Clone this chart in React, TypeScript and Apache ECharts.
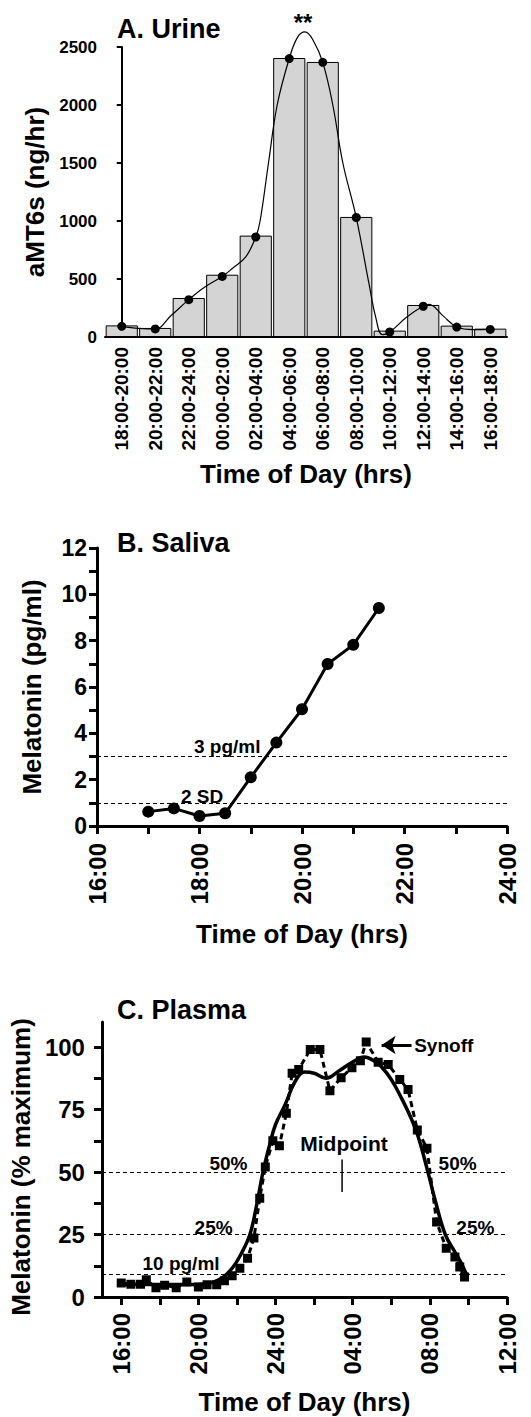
import React, { useEffect, useRef } from 'react';
import * as echarts from 'echarts';

// ---------- Panel A: Urine ----------
const urineCategories = [
  '18:00-20:00', '20:00-22:00', '22:00-24:00', '00:00-02:00', '02:00-04:00', '04:00-06:00',
  '06:00-08:00', '08:00-10:00', '10:00-12:00', '12:00-14:00', '14:00-16:00', '16:00-18:00',
];
const urineBars = [100, 78, 336, 537, 874, 2405, 2371, 1035, 55, 276, 98, 72];
const urineDots = [92, 70, 322, 522, 862, 2400, 2368, 1030, 43, 265, 86, 65];
// smooth curve read along the drawn spline (x in category index units)
const urineCurve: [number, number][] = [
  [0, 92], [0.5, 75], [1, 70], [1.48, 187], [2, 322], [2.48, 431], [3, 522], [3.3, 590],
  [3.7, 690], [4, 862], [4.13, 1000], [4.38, 1500], [4.64, 2000], [5, 2400], [5.25, 2585],
  [5.47, 2630], [5.7, 2565], [6, 2368], [6.3, 2000], [6.6, 1500], [7, 1030], [7.38, 460],
  [7.58, 172], [7.78, 20], [8, 43], [8.5, 170], [9, 267], [9.17, 282], [9.6, 180],
  [10, 86], [10.5, 64], [11, 66],
];
const urineYTicks = [0, 500, 1000, 1500, 2000, 2500];

// ---------- Panel B: Saliva ----------
const salivaPoints: [number, number][] = [
  [17.0, 0.62], [17.5, 0.76], [18.0, 0.43], [18.5, 0.55], [19.0, 2.1],
  [19.5, 3.6], [20.0, 5.04], [20.5, 6.99], [21.0, 7.82], [21.5, 9.41],
];
const salivaThresholds = [3, 1];
const salivaNotes: [number, number, string][] = [
  [18.54, 3.45, '3 pg/ml'],
  [18.05, 1.29, '2 SD'],
];
const salivaXTickValues = [16, 17, 18, 19, 20, 21, 22, 23, 24];
const salivaXLabelValues = [16, 18, 20, 22, 24];
const salivaXLabels = ['16:00', '18:00', '20:00', '22:00', '24:00'];
const salivaYTickValues = [0, 1, 2, 3, 4, 5, 6, 7, 8, 9, 10, 11, 12];
const salivaYLabelValues = [0, 2, 4, 6, 8, 10, 12];

// ---------- Panel C: Plasma ----------
const plasmaPoints: [number, number][] = [
  [16.0, 5.6], [16.5, 5.1], [17.0, 5.1], [17.3, 6.9], [17.8, 3.7], [18.25, 4.7],
  [18.85, 3.7], [19.4, 6.0], [20.0, 4.0], [20.45, 4.9], [20.95, 4.9], [21.35, 6.5],
  [21.75, 8.5], [22.15, 11.5], [22.55, 15.5], [22.88, 23.6], [23.18, 39.5], [23.47, 52],
  [23.86, 62.5], [24.2, 60.5], [24.56, 73.5], [24.86, 89.5], [25.2, 91], [25.8, 99],
  [26.3, 99], [26.82, 82.5], [27.4, 87.7], [27.96, 91.7], [28.4, 94.5], [28.7, 102],
  [29.32, 93.9], [29.84, 93], [30.44, 87], [30.87, 83], [31.35, 66.8], [31.85, 59.5],
  [32.35, 30], [32.85, 19.5], [33.3, 16], [33.55, 12], [33.8, 8],
];
const plasmaFit: [number, number][] = [
  [16.0, 5], [18.0, 5], [20.0, 5], [20.8, 6], [21.3, 8], [21.8, 12], [22.2, 17],
  [22.67, 25], [23.0, 36], [23.35, 50], [23.7, 61], [24.0, 69], [24.5, 77], [25.0, 86],
  [25.5, 90], [26.0, 89.5], [26.6, 87.5], [27.3, 90.5], [28.0, 94], [28.6, 96],
  [29.1, 94.5], [29.5, 92], [30.0, 87], [30.5, 80], [31.0, 72], [31.4, 64], [31.9, 50],
  [32.3, 38], [32.8, 25], [33.3, 18], [33.6, 14], [33.9, 9],
];
const plasmaThresholds = [50, 25, 9];
const plasmaNotes: [number, number, string][] = [
  [21.56, 53.6, '50%'],
  [33.44, 53.6, '50%'],
  [20.79, 28, '25%'],
  [34.36, 28, '25%'],
  [19.1, 13.6, '10 pg/ml'],
  [32.72, 100.8, 'Synoff'],
];
const plasmaMidpointNote: [number, number, string] = [27.55, 61.6, 'Midpoint'];
const plasmaMidpointTick: [number, number][] = [[27.45, 42], [27.45, 55]];
const plasmaArrow: [number, number][] = [[29.5, 100.8], [31.05, 100.8]];
const plasmaXTickValues = [16, 18, 20, 22, 24, 26, 28, 30, 32, 34, 36];
const plasmaXLabelValues = [16, 20, 24, 28, 32, 36];
const plasmaXLabels = ['16:00', '20:00', '24:00', '04:00', '08:00', '12:00'];
const plasmaYTickValues = [0, 12.5, 25, 37.5, 50, 62.5, 75, 87.5, 100];
const plasmaYLabelValues = [0, 25, 50, 75, 100];

const FONT = "'Liberation Sans', Arial, sans-serif";
const bold = (size: number) => ({ fontFamily: FONT, fontWeight: 'bold' as const, fontSize: size, color: '#000' });

export default function App() {
  const ref = useRef<HTMLDivElement>(null);

  useEffect(() => {
    if (!ref.current) return;
    const chart = echarts.init(ref.current, undefined, { renderer: 'svg' });

    const axisLine = (w: number) => ({ show: true, lineStyle: { color: '#000', width: w } });
    const noteSeries = (xIdx: number, yIdx: number, notes: [number, number, string][], size: number) => ({
      type: 'scatter', xAxisIndex: xIdx, yAxisIndex: yIdx, symbolSize: 1,
      itemStyle: { color: 'rgba(0,0,0,0)', opacity: 1 },
      data: notes.map((n) => ({ value: [n[0], n[1]], name: n[2] })),
      label: { show: true, position: 'inside', formatter: '{b}', ...bold(size), opacity: 1, textBorderWidth: 0 },
      silent: true, z: 6,
    });

    const option: any = {
      animation: false,
      backgroundColor: '#fff',
      grid: [
        { left: 105, top: 47, width: 402, height: 290 },
        { left: 97, top: 548, width: 410, height: 278 },
        { left: 97, top: 1022, width: 410, height: 275 },
      ],
      xAxis: [
        {
          type: 'category', gridIndex: 0, data: urineCategories,
          axisLine: axisLine(2), axisTick: { show: false },
          axisLabel: { ...bold(19), rotate: 90, margin: 10, interval: 0 },
          name: 'Time of Day (hrs)', nameLocation: 'middle', nameGap: 124, nameTextStyle: bold(26),
        },
        { type: 'value', gridIndex: 0, min: -0.5, max: 11.5, show: false },
        {
          type: 'value', gridIndex: 1, min: 16, max: 24, splitLine: { show: false },
          axisLine: axisLine(3),
          axisTick: { show: true, length: 8, lineStyle: { width: 3, color: '#000' }, customValues: salivaXTickValues },
          axisLabel: {
            ...bold(24), rotate: 90, margin: 17, customValues: salivaXLabelValues,
            formatter: (v: number) => salivaXLabels[salivaXLabelValues.indexOf(v)] ?? '',
          },
          name: 'Time of Day (hrs)', nameLocation: 'middle', nameGap: 95, nameTextStyle: bold(26),
        },
        {
          type: 'value', gridIndex: 2, min: 15, max: 36, splitLine: { show: false },
          axisLine: axisLine(3),
          axisTick: { show: true, length: 8, lineStyle: { width: 3, color: '#000' }, customValues: plasmaXTickValues },
          axisLabel: {
            ...bold(24), rotate: 90, margin: 16, customValues: plasmaXLabelValues,
            formatter: (v: number) => plasmaXLabels[plasmaXLabelValues.indexOf(v)] ?? '',
          },
          name: 'Time of Day (hrs)', nameLocation: 'middle', nameGap: 92, nameTextStyle: bold(26),
        },
      ],
      yAxis: [
        {
          type: 'value', gridIndex: 0, min: 0, max: 2500, interval: 500, splitLine: { show: false },
          axisLine: axisLine(2),
          axisTick: { show: true, length: 5, lineStyle: { width: 2, color: '#000' }, customValues: urineYTicks },
          axisLabel: { ...bold(17), margin: 8, formatter: (v: number) => String(v) },
          name: 'aMT6s (ng/hr)', nameLocation: 'middle', nameGap: 47, nameTextStyle: bold(26),
        },
        {
          type: 'value', gridIndex: 1, min: 0, max: 12, splitLine: { show: false },
          axisLine: axisLine(3),
          axisTick: { show: true, length: 8, lineStyle: { width: 3, color: '#000' }, customValues: salivaYTickValues },
          axisLabel: { ...bold(23), margin: 10, customValues: salivaYLabelValues },
          name: 'Melatonin (pg/ml)', nameLocation: 'middle', nameGap: 52, nameTextStyle: bold(26),
        },
        {
          type: 'value', gridIndex: 2, min: 0, max: 110, splitLine: { show: false },
          axisLine: axisLine(3),
          axisTick: { show: true, length: 8, lineStyle: { width: 3, color: '#000' }, customValues: plasmaYTickValues },
          axisLabel: { ...bold(24), margin: 17, customValues: plasmaYLabelValues },
          name: 'Melatonin (% maximum)', nameLocation: 'middle', nameGap: 56,
          nameTextStyle: { ...bold(26), padding: [0, 15, 0, 0] },
        },
      ],
      series: [
        {
          type: 'bar', xAxisIndex: 0, yAxisIndex: 0, data: urineBars, barCategoryGap: '4%',
          itemStyle: { color: '#d4d4d4', borderColor: '#000', borderWidth: 1 }, silent: true,
        },
        {
          type: 'line', xAxisIndex: 1, yAxisIndex: 0, data: urineCurve, smooth: 0.4, clip: false,
          showSymbol: false, lineStyle: { color: '#000', width: 1.2 }, silent: true,
        },
        {
          type: 'scatter', xAxisIndex: 0, yAxisIndex: 0, data: urineDots, symbolSize: 9,
          itemStyle: { color: '#000', opacity: 1 }, silent: true,
        },
        {
          type: 'line', xAxisIndex: 2, yAxisIndex: 1, data: salivaPoints, symbol: 'circle', symbolSize: 12,
          lineStyle: { color: '#000', width: 3 }, itemStyle: { color: '#000' }, silent: true, z: 5,
          markLine: {
            silent: true, symbol: 'none', label: { show: false },
            lineStyle: { color: '#000', width: 1, type: [4, 3] },
            data: salivaThresholds.map((v) => ({ yAxis: v })),
          },
        },
        noteSeries(2, 1, salivaNotes, 19),
        {
          type: 'line', xAxisIndex: 3, yAxisIndex: 2, data: plasmaPoints, symbol: 'rect', symbolSize: 9,
          lineStyle: { color: '#000', width: 3, type: [6, 4] }, itemStyle: { color: '#000' }, silent: true,
          markLine: {
            silent: true, symbol: 'none', label: { show: false },
            lineStyle: { color: '#000', width: 1, type: [4, 3] },
            data: plasmaThresholds.map((v) => ({ yAxis: v })),
          },
        },
        {
          type: 'line', xAxisIndex: 3, yAxisIndex: 2, data: plasmaFit, smooth: 0.4, showSymbol: false,
          lineStyle: { color: '#000', width: 3.5 }, silent: true, z: 4,
        },
        {
          type: 'line', xAxisIndex: 3, yAxisIndex: 2, data: plasmaMidpointTick, showSymbol: false,
          lineStyle: { color: '#000', width: 1.5 }, silent: true,
        },
        {
          type: 'line', xAxisIndex: 3, yAxisIndex: 2, data: [], silent: true,
          markLine: {
            silent: true, symbol: ['arrow', 'none'], symbolSize: [14, 14], label: { show: false },
            lineStyle: { color: '#000', width: 3, type: 'solid' },
            data: [[{ coord: plasmaArrow[0] }, { coord: plasmaArrow[1] }]],
          },
        },
        noteSeries(3, 2, plasmaNotes, 19),
        noteSeries(3, 2, [plasmaMidpointNote], 21),
      ],
      graphic: [
        { type: 'text', left: 117, top: 15, style: { text: 'A. Urine', font: `bold 27px ${FONT}`, fill: '#000' } },
        { type: 'text', x: 303, y: 22, style: { text: '**', font: `bold 24px ${FONT}`, fill: '#000', textAlign: 'center', textVerticalAlign: 'middle' } },
        { type: 'text', left: 117, top: 529, style: { text: 'B. Saliva', font: `bold 27px ${FONT}`, fill: '#000' } },
        { type: 'text', left: 117, top: 996, style: { text: 'C. Plasma', font: `bold 27px ${FONT}`, fill: '#000' } },
      ],
    };

    chart.setOption(option);
    return () => chart.dispose();
  }, []);

  return (
    <div
      ref={ref}
      style={{ position: 'absolute', left: 0, top: 0, width: 531, height: 1417, background: '#fff' }}
    />
  );
}
